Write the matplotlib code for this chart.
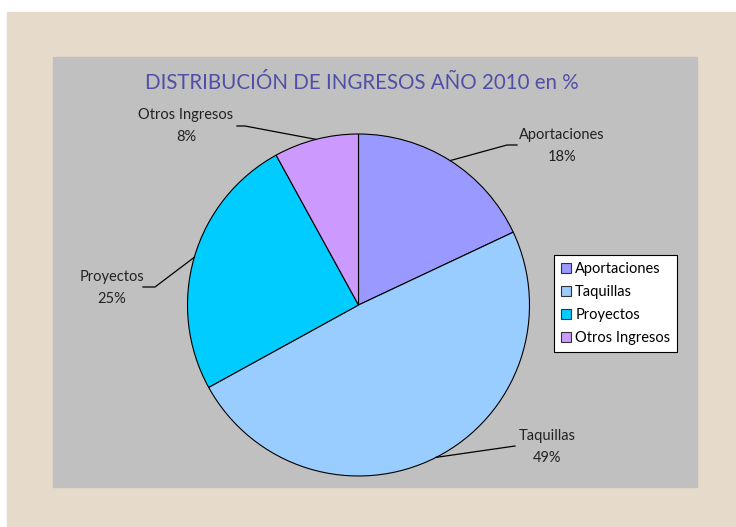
import numpy as np
import matplotlib
matplotlib.use('Agg')
import matplotlib.pyplot as plt
from matplotlib.patches import Rectangle

# datos del gráfico
categorias = ['Aportaciones', 'Taquillas', 'Proyectos', 'Otros Ingresos']
porcentajes = [18, 49, 25, 8]
colores = ['#9999FF', '#99CCFF', '#00CCFF', '#CC99FF']
titulo = 'DISTRIBUCIÓN DE INGRESOS AÑO 2010 en %'

plt.rcParams['font.family'] = ['Lato', 'DejaVu Sans']

W, H = 736, 527
fig = plt.figure(figsize=(W / 100, H / 100), dpi=100)
fig.patch.set_facecolor('white')

# fondo beige y área gris
fig.patches.append(Rectangle((7 / W, 0), 1 - 7 / W, (H - 12) / H,
                             transform=fig.transFigure, color='#E6DBCB', zorder=-2))
fig.patches.append(Rectangle((53 / W, (H - 487) / H), 644 / W, 430 / H,
                             transform=fig.transFigure, color='#C0C0C0', zorder=-1))

# ejes en coordenadas de píxel
ax = fig.add_axes([0, 0, 1, 1])
ax.set_xlim(0, W)
ax.set_ylim(0, H)
ax.set_aspect('equal')
ax.axis('off')

cx, cy, r = 358.5, H - 305, 171
wedges, _ = ax.pie(porcentajes, colors=colores, startangle=90, counterclock=False,
                   center=(cx, cy), radius=r,
                   wedgeprops=dict(edgecolor='black', linewidth=0.8))
ax.set_xlim(0, W)
ax.set_ylim(0, H)

ax.text(362, H - 83, titulo, ha='center', va='center', fontsize=14.8,
        color='#4F4FA8')

# posiciones de las etiquetas (texto, codo de la línea)
etiquetas = {
    'Aportaciones': ((562, 146), (517, 145), (507, 145)),
    'Taquillas': ((547, 447), (515, 446), (515, 446)),
    'Proyectos': ((112, 288), (143, 287), (155, 287)),
    'Otros Ingresos': ((186, 126), (237, 126), (245, 126)),
}
for w, cat, p in zip(wedges, categorias, porcentajes):
    ang = np.deg2rad((w.theta1 + w.theta2) / 2)
    ex, ey = cx + r * np.cos(ang), cy + r * np.sin(ang)
    (tx, ty), (ax1, ay1), (ax2, ay2) = etiquetas[cat]
    ax.plot([ax1, ax2, ex], [H - ay1, H - ay2, ey], color='black', lw=0.9)
    ax.text(tx, H - ty, f'{cat}\n{p}%', ha='center', va='center', fontsize=10.5,
            color='#222222', linespacing=1.65)

leg = ax.legend(wedges, categorias, loc='center', bbox_to_anchor=(615.5 / W, (H - 303.5) / H),
                bbox_transform=fig.transFigure, fancybox=False, framealpha=1,
                edgecolor='black', fontsize=10.5, handlelength=0.7, handleheight=0.7,
                handletextpad=0.3, borderpad=0.45, labelspacing=0.62, borderaxespad=0)
leg.get_frame().set_linewidth(0.8)
for h in leg.legend_handles:
    h.set_edgecolor('#333333')

fig.savefig('out.png', dpi=100, facecolor=fig.get_facecolor())
